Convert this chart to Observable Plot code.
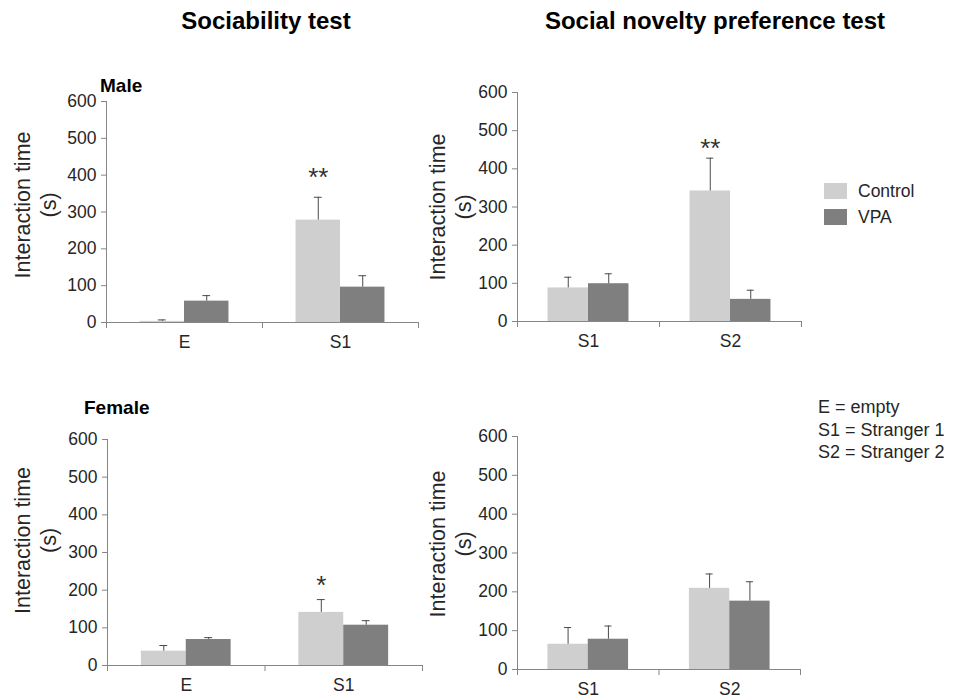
<!DOCTYPE html>
<html>
<head>
<meta charset="utf-8">
<script src="https://cdn.jsdelivr.net/npm/d3@7"></script>
<script src="https://cdn.jsdelivr.net/npm/@observablehq/plot@0.6"></script>
<style>
  html, body { margin: 0; padding: 0; background: #fff; }
  #root { position: relative; width: 955px; height: 700px; overflow: hidden; font-family: Arial, "Liberation Sans", Helvetica, sans-serif; }
  .abs { position: absolute; }
</style>
</head>
<body>
<div id="root"></div>
<script>
// ---------------- DATA ----------------
const groups = ["Control", "VPA"];
const groupColors = ["#d0cfd0", "#7f7f7f"];

const socCategories = ["E", "S1"];
const novCategories = ["S1", "S2"];
const yTicks = [0, 100, 200, 300, 400, 500, 600];

// Male – sociability test
const maleSocControl = [3, 278];
const maleSocControlSem = [4, 62];
const maleSocVPA = [58, 96];
const maleSocVPASem = [15, 31];
// Male – social novelty preference test
const maleNovControl = [88, 342];
const maleNovControlSem = [28, 86];
const maleNovVPA = [99, 58];
const maleNovVPASem = [26, 24];
// Female – sociability test
const femaleSocControl = [38, 141];
const femaleSocControlSem = [15, 34];
const femaleSocVPA = [69, 107];
const femaleSocVPASem = [5, 12];
// Female – social novelty preference test
const femaleNovControl = [65, 209];
const femaleNovControlSem = [43, 37];
const femaleNovVPA = [78, 176];
const femaleNovVPASem = [34, 50];

// significance marks (placed above the Control bar)
const maleSocStars = [{cat: "S1", label: "**", y: 394}];
const maleNovStars = [{cat: "S2", label: "**", y: 454}];
const femaleSocStars = [{cat: "S1", label: "*", y: 213}];
const femaleNovStars = [];

const titles = ["Sociability test", "Social novelty preference test"];
const sexLabels = ["Male", "Female"];
const yLabel = "Interaction time\n(s)";
const abbreviations = ["E = empty", "S1 = Stranger 1", "S2 = Stranger 2"];

// ---------------- DRAWING ----------------
const FONT = 'Arial, "Liberation Sans", Helvetica, sans-serif';
const AXIS = "#868686";
const INK = "#262626";
const root = document.getElementById("root");

function panel(o) {
  const cats = o.cats;
  const bw = 0.285;
  const rows = [];
  cats.forEach((c, i) => {
    rows.push({cat: c, i, group: groups[0], v: o.ctrl[i], sem: o.ctrlSem[i], x1: i + 0.5 - bw, x2: i + 0.5});
    rows.push({cat: c, i, group: groups[1], v: o.vpa[i], sem: o.vpaSem[i], x1: i + 0.5, x2: i + 0.5 + bw});
  });
  rows.forEach(r => r.cx = (r.x1 + r.x2) / 2);
  const mR = 20;
  const plot = Plot.plot({
    width: o.mL + o.plotW + mR,
    height: o.mT + o.plotH + o.mB,
    marginLeft: o.mL, marginRight: mR, marginTop: o.mT, marginBottom: o.mB,
    style: {fontFamily: FONT, fontSize: "17.5px", color: INK, background: "transparent", overflow: "visible"},
    x: {type: "linear", domain: [0, cats.length]},
    y: {domain: [0, 600]},
    color: {domain: groups, range: groupColors},
    marks: [
      Plot.rectY(rows, {x1: "x1", x2: "x2", y1: 0, y2: "v", fill: "group"}),
      Plot.ruleX(rows, {x: "cx", y1: "v", y2: d => d.v + d.sem, stroke: "#4a4a4a", strokeWidth: 1}),
      Plot.ruleY(rows, {y: d => d.v + d.sem, x1: d => d.cx - 0.025, x2: d => d.cx + 0.025, stroke: "#4a4a4a", strokeWidth: 1}),
      Plot.ruleX([0], {stroke: AXIS}),
      Plot.ruleY([0], {stroke: AXIS}),
      Plot.axisY({ticks: yTicks, tickSize: 5, tickPadding: 5, stroke: AXIS, fill: INK, fontSize: 17.5, label: null}),
      Plot.axisX({ticks: d3.range(cats.length + 1), tickSize: 6, tickFormat: () => "", stroke: AXIS, label: null}),
      Plot.axisX({ticks: cats.map((c, i) => i + 0.5), tickSize: 0, tickPadding: 13, fill: INK, fontSize: 17.5,
                  tickFormat: t => cats[Math.floor(t)], label: null}),
      Plot.text(o.stars, {x: d => cats.indexOf(d.cat) + 0.5 - bw / 2, y: "y", text: "label", fontSize: 26, fill: "#333"}),
      Plot.text([yLabel], {frameAnchor: "left", textAnchor: "middle", rotate: -90, dx: o.labelDx, dy: o.labelDy,
                           fontSize: 21.5, lineHeight: 1.2, fill: INK})
    ]
  });
  plot.classList.add("abs");
  plot.style.left = o.left + "px";
  plot.style.top = o.top + "px";
  root.appendChild(plot);
}

panel({cats: socCategories, ctrl: maleSocControl, ctrlSem: maleSocControlSem, vpa: maleSocVPA, vpaSem: maleSocVPASem,
       stars: maleSocStars, left: 0, top: 60, mL: 106, mT: 41, mB: 38, plotW: 312, plotH: 221, labelDx: -72, labelDy: -7});
panel({cats: novCategories, ctrl: maleNovControl, ctrlSem: maleNovControlSem, vpa: maleNovVPA, vpaSem: maleNovVPASem,
       stars: maleNovStars, left: 430, top: 60, mL: 87, mT: 32, mB: 38, plotW: 284, plotH: 229, labelDx: -68, labelDy: 0});
panel({cats: socCategories, ctrl: femaleSocControl, ctrlSem: femaleSocControlSem, vpa: femaleSocVPA, vpaSem: femaleSocVPASem,
       stars: femaleSocStars, left: 0, top: 400, mL: 107, mT: 39, mB: 35, plotW: 315, plotH: 226, labelDx: -73, labelDy: -12});
panel({cats: novCategories, ctrl: femaleNovControl, ctrlSem: femaleNovControlSem, vpa: femaleNovVPA, vpaSem: femaleNovVPASem,
       stars: femaleNovStars, left: 430, top: 400, mL: 87, mT: 36, mB: 31, plotW: 283, plotH: 233, labelDx: -68, labelDy: -9});

// overlay: titles, sex labels, legend, abbreviations
const svg = d3.select(root).append("svg").attr("class", "abs")
  .attr("width", 955).attr("height", 700).style("left", "0px").style("top", "0px")
  .style("pointer-events", "none").style("font-family", FONT);

svg.selectAll("text.title").data(titles).join("text").attr("class", "title")
  .attr("x", (d, i) => [266, 715][i]).attr("y", 29).attr("text-anchor", "middle")
  .attr("font-size", 24).attr("font-weight", "bold").attr("fill", "#000").text(d => d);

svg.selectAll("text.sex").data(sexLabels).join("text").attr("class", "sex")
  .attr("x", (d, i) => [100, 84][i]).attr("y", (d, i) => [91.5, 414][i])
  .attr("font-size", 19).attr("font-weight", "bold").attr("fill", "#000").text(d => d);

const leg = svg.append("g");
leg.selectAll("rect").data(groups).join("rect")
  .attr("x", 824).attr("y", (d, i) => 183 + i * 26).attr("width", 23).attr("height", 16)
  .attr("fill", (d, i) => groupColors[i]);
leg.selectAll("text").data(groups).join("text")
  .attr("x", 858).attr("y", (d, i) => 197 + i * 26).attr("font-size", 17.5).attr("fill", INK).text(d => d);

svg.selectAll("text.abbr").data(abbreviations).join("text").attr("class", "abbr")
  .attr("x", 818).attr("y", (d, i) => 413 + i * 22.5).attr("font-size", 18).attr("fill", INK).text(d => d);
</script>
</body>
</html>
